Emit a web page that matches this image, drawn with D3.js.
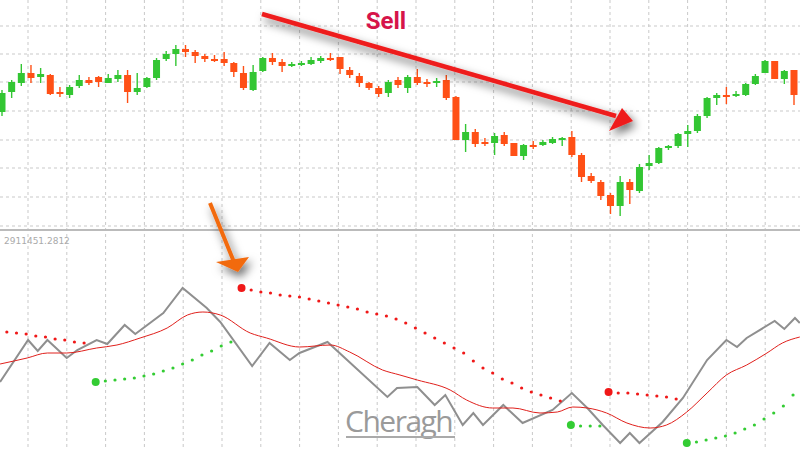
<!DOCTYPE html>
<html><head><meta charset="utf-8">
<script src="https://cdn.jsdelivr.net/npm/d3@7"></script>
<style>body{margin:0;background:#fff}svg{display:block}</style>
</head><body>
<svg id="chart" width="800" height="450"></svg>
<script>
// candles (price units)
var opens  = [138,158,167,177,173,175,158,155,164,170,173,167,171,175,158,163,172,191,196,201,198,194,191,191,187,177,160,179,192,188,184,186,186,189,192,193,180,174,167,162,157,170,
              162,173,168,167,170,153,110,118,108,107,115,107,94,105,105,107,111,113,95,74,68,55,44,68,59,84,87,103,104,116,119,134,152,155,154,155,166,177,189,171,180];
var closes = [157,168,177,172,176,156,156,163,170,167,168,172,175,158,162,172,190,196,201,198,194,191,190,187,178,162,178,192,188,184,186,187,190,192,191,181,175,167,162,156,168,165,
              173,167,167,169,152,110,118,106,107,114,106,94,105,103,108,111,112,95,73,69,54,44,68,60,83,87,102,104,116,119,134,152,155,154,156,166,174,189,171,179,155];
var highs  = [160,170,186,185,182,176,163,165,175,173,174,176,180,180,177,173,192,199,205,205,200,196,195,198,188,184,185,193,197,191,188,189,193,194,197,193,183,177,168,164,170,173,
              175,181,171,172,175,154,126,121,112,117,118,107,106,109,110,113,113,119,97,77,70,57,74,71,86,95,103,105,117,125,136,153,157,163,159,167,176,190,189,180,180];
var lows   = [134,152,164,167,167,155,153,152,162,165,163,167,168,147,155,162,170,189,184,193,187,188,188,184,173,160,159,178,185,178,183,184,185,187,189,176,172,163,160,153,153,162,
              157,165,163,163,150,110,98,103,104,95,104,94,90,101,104,106,104,93,68,67,50,36,34,46,57,80,86,100,102,103,117,132,145,146,153,154,165,177,171,166,145];

// oscillator panel: [candle index, value]
var grayIdx = [-0.2,2.7,3.7,4.7,6.7,7.8,9.8,10.9,12.7,13.8,16.7,18.7,21.2,22.6,25.9,27.7,29.8,30.8,33.7,39.9,40.9,43,44.8,45.9,47.7,48.8,49.8,51.9,53.9,57,59,60.6,62.2,64,65,66,68.4,70.5,73,75,76.1,77.1,80,81,82.1,82.6];
var grayVal = [68,110,99,110,92,100,110,106,125,116,137,162,142,128,84,107,90,97,108,53,62,63,45,55,25,37,25,45,27,40,57,42,25,7,17,7,28,52,90,110,103,112,129,121,132,127];
var maIdx = [-0.2,2.6,4.7,6.7,9.8,11.9,14.3,17.1,19.2,20.8,22.6,25.7,27.4,30.8,34,36,39.4,41.2,43,46.4,48.1,50.8,52.9,55.7,57.5,59.1,60.6,62.6,64.7,67.1,68.8,70.9,73,75,77.1,79.2,80.8,82.6];
var maVal = [86,92,97,97,102,105,112,122,135,138,135,117,112,103,105,98,80,75,70,60,50,42,42,37,38,43,42,37,27,22,25,38,57,75,85,97,107,113];

// dotted segments: start index, one value per candle
var redDots = [
  {start: 0.5, vals: [118,117,116,114,113,111,110,108,107], big: false},
  {start: 24.8, vals: [162,160,158,157,155,154,153,151,149,147,145,143,141,138,136,134,131,127,122,117,112,107,102,97,89,82,77,71,67,62,58,55,52,49], big: true},
  {start: 62.8, vals: [58,57,57,56,55,54,53,51], big: true}
];
var greenDots = [
  {start: 9.7, vals: [68,69,70,71,72,74,76,79,82,86,90,95,99,104,108], big: true},
  {start: 58.9, vals: [25,24,24,24], big: true},
  {start: 70.9, vals: [7,8,10,12,14,17,21,25,31,37,44,55], big: true}
];

var svg = d3.select("#chart");
var x = d3.scaleLinear().domain([0, 82]).range([2, 794]);
var yP = d3.scaleLinear().domain([0, 250]).range([250, 0]);
var yO = d3.scaleLinear().domain([0, 220]).range([450, 230]);

var defs = svg.append("defs");
var f = defs.append("filter").attr("id", "shadow").attr("x", "-30%").attr("y", "-60%").attr("width", "160%").attr("height", "220%");
f.append("feDropShadow").attr("dx", 3).attr("dy", 5).attr("stdDeviation", 5).attr("flood-color", "#000").attr("flood-opacity", 0.6);

// grid
var grid = svg.append("g").attr("stroke", "#c9c9c9").attr("stroke-dasharray", "3,3").attr("stroke-width", 1);
d3.range(28, 800, 38.8).forEach(gx => {
    grid.append("line").attr("x1", gx).attr("x2", gx).attr("y1", 0).attr("y2", 450);
});
[26, 54, 82, 111, 140, 168, 197].forEach(gy => {
    grid.append("line").attr("x1", 0).attr("x2", 800).attr("y1", gy).attr("y2", gy);
});
grid.append("line").attr("x1", 0).attr("x2", 800).attr("y1", 226).attr("y2", 226);
svg.append("line").attr("x1", 0).attr("x2", 800).attr("y1", 230).attr("y2", 230).attr("stroke", "#bbb").attr("stroke-width", 2);

// candles
var cg = svg.append("g");
opens.forEach((o, i) => {
    var c = closes[i];
    var col = c >= o ? "#33c633" : "#ff5016";
    cg.append("line").attr("x1", x(i)).attr("x2", x(i)).attr("y1", yP(highs[i])).attr("y2", yP(lows[i]))
        .attr("stroke", col).attr("stroke-width", 1.4);
    var top = yP(Math.max(o, c)), bot = yP(Math.min(o, c));
    cg.append("rect").attr("x", x(i) - 3.5).attr("width", 7).attr("y", top).attr("height", Math.max(bot - top, 2)).attr("fill", col);
});

svg.append("text").attr("x", 4).attr("y", 244).attr("font-family", "Verdana, DejaVu Sans").attr("font-size", 9)
    .attr("fill", "#aaa").text("2911451.2812");

// watermark
svg.append("text").attr("x", 345).attr("y", 432).attr("font-family", "Open Sans").attr("font-size", 30)
    .attr("fill", "#9a9a9a").attr("letter-spacing", -1.5).text("Cheragh");
svg.append("line").attr("x1", 346).attr("x2", 455).attr("y1", 437).attr("y2", 437).attr("stroke", "#aaa").attr("stroke-width", 2);

// oscillator lines
var line = d3.line().x(d => x(d[0])).y(d => yO(d[1]));
svg.append("path").datum(grayIdx.map((d, i) => [d, grayVal[i]])).attr("d", line)
    .attr("fill", "none").attr("stroke", "#8f8f8f").attr("stroke-width", 2);
svg.append("path").datum(maIdx.map((d, i) => [d, maVal[i]])).attr("d", line.curve(d3.curveMonotoneX))
    .attr("fill", "none").attr("stroke", "#e0201c").attr("stroke-width", 1);

function drawDots(segs, col) {
    segs.forEach(s => {
        s.vals.forEach((v, j) => {
            svg.append("circle").attr("cx", x(s.start + j)).attr("cy", yO(v))
                .attr("r", j == 0 && s.big ? 4 : 1.6).attr("fill", col);
        });
    });
}
drawDots(redDots, "#f01818");
drawDots(greenDots, "#33cc33");

// annotations
var ann = svg.append("g").attr("filter", "url(#shadow)");
ann.append("line").attr("x1", 262).attr("y1", 14).attr("x2", 616).attr("y2", 116).attr("stroke", "#ee1c1c").attr("stroke-width", 4.5);
ann.append("polygon").attr("points", "633,121 622,108 609,131").attr("fill", "#ee1c1c");
ann.append("line").attr("x1", 210).attr("y1", 203).attr("x2", 234).attr("y2", 262).attr("stroke", "#f26a10").attr("stroke-width", 4);
ann.append("polygon").attr("points", "238,272 216,262 249,257").attr("fill", "#f26a10");

svg.append("text").attr("x", 386).attr("y", 29).attr("text-anchor", "middle").attr("font-family", "Roboto, Arial")
    .attr("font-weight", "bold").attr("font-size", 24).attr("fill", "#d6144a").text("Sell");
</script>
</body></html>
